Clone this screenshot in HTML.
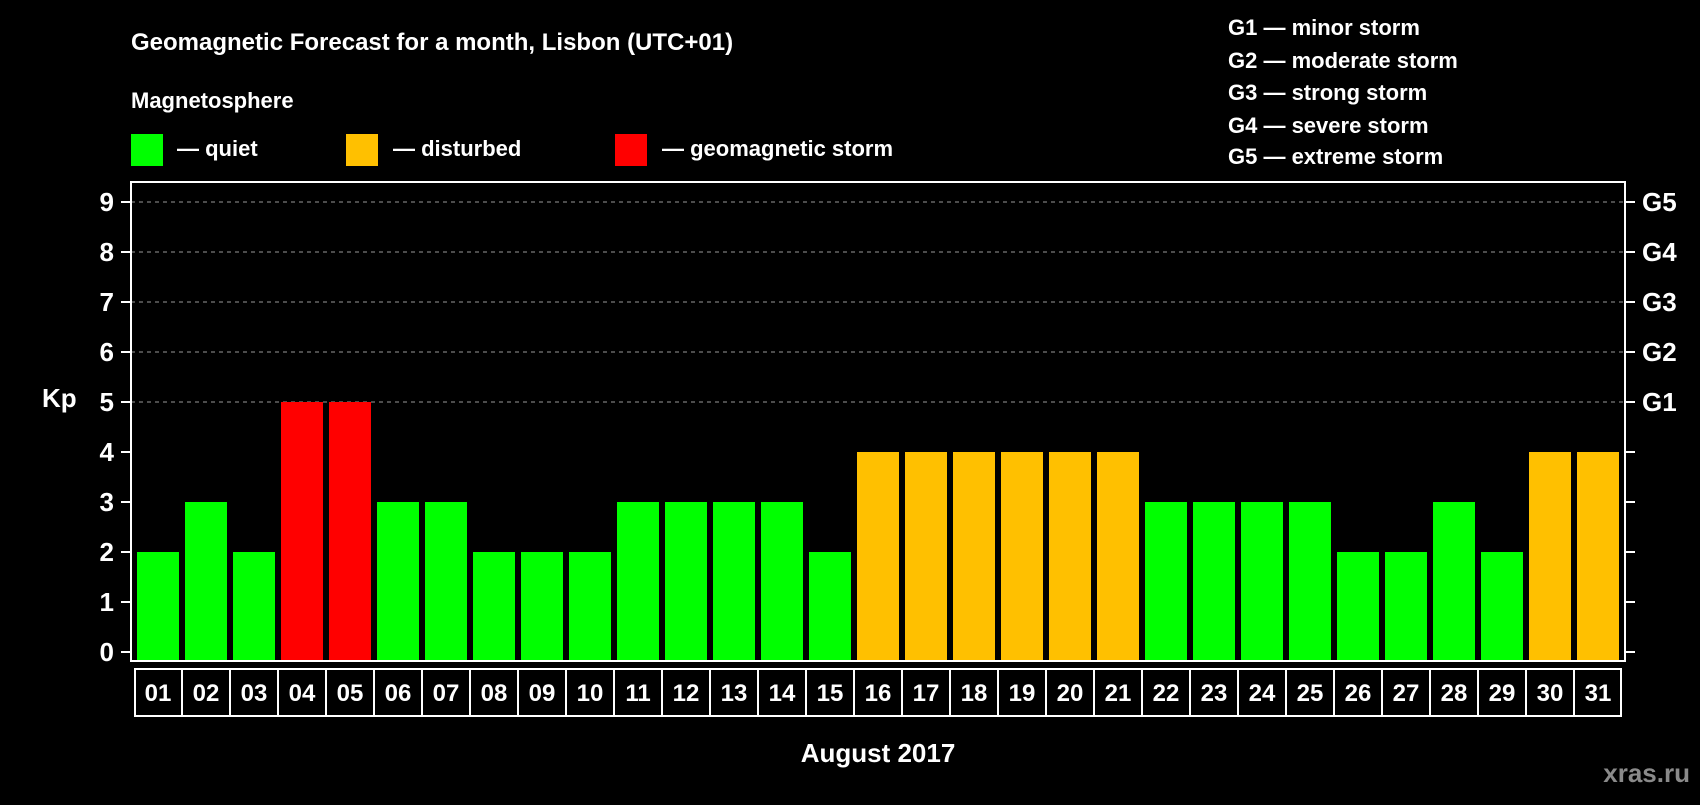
<!DOCTYPE html>
<html><head><meta charset="utf-8"><style>
body{margin:0;background:#000;width:1700px;height:800px;overflow:hidden}
svg text{font-family:"Liberation Sans",Arial,sans-serif;font-weight:bold;fill:#fff}
</style></head><body>
<svg id="chart" width="1700" height="800" xmlns="http://www.w3.org/2000/svg">
<rect width="1700" height="800" fill="#000"/>
<text x="131" y="50" font-size="24">Geomagnetic Forecast for a month, Lisbon (UTC+01)</text>
<text x="131" y="108" font-size="22">Magnetosphere</text>
<g><rect x="131" y="134" width="32" height="32" fill="#00ff00"/><text x="177" y="156" font-size="22">— quiet</text></g>
<g><rect x="346" y="134" width="32" height="32" fill="#ffc000"/><text x="393" y="156" font-size="22">— disturbed</text></g>
<g><rect x="615" y="134" width="32" height="32" fill="#ff0000"/><text x="662" y="156" font-size="22">— geomagnetic storm</text></g>
<g font-size="22">
<text x="1228" y="35">G1 — minor storm</text>
<text x="1228" y="68">G2 — moderate storm</text>
<text x="1228" y="100">G3 — strong storm</text>
<text x="1228" y="133">G4 — severe storm</text>
<text x="1228" y="164">G5 — extreme storm</text>
</g>
<text x="42" y="407" font-size="26">Kp</text>
<text x="878" y="762" font-size="26" text-anchor="middle">August 2017</text>
<text x="1690" y="782" font-size="26" text-anchor="end" style="fill:#8a8a8a">xras.ru</text>
<g id="grid"></g><g id="bars"></g><g id="axes"></g>
</svg>
<script>
const days=["01","02","03","04","05","06","07","08","09","10","11","12","13","14","15","16","17","18","19","20","21","22","23","24","25","26","27","28","29","30","31"];
const kp=[2,3,2,5,5,3,3,2,2,2,3,3,3,3,2,4,4,4,4,4,4,3,3,3,3,2,2,3,2,4,4];
const yTicks=[0,1,2,3,4,5,6,7,8,9];
const gLabels=["G1","G2","G3","G4","G5"];
const gLevels=[5,6,7,8,9];
const NS="http://www.w3.org/2000/svg";
const L=131,R=1625,T=182,B=661,bandStart=134,pitch=48,bw=42;
const y=v=>652-v*50;
const x=i=>bandStart+i*pitch;
function mk(t,a,p){const e=document.createElementNS(NS,t);for(const k in a)e.setAttribute(k,a[k]);p.appendChild(e);return e;}
const grid=document.getElementById('grid'),bars=document.getElementById('bars'),axes=document.getElementById('axes');
gLevels.forEach(v=>{const l=mk('line',{x1:L,x2:R,y1:y(v),y2:y(v),stroke:'#999','stroke-dasharray':'4,4','stroke-width':1},grid);

});
kp.forEach((v,i)=>{const c=v>=5?'#ff0000':v>=4?'#ffc000':'#00ff00';
const r=mk('rect',{x:x(i)+3,y:y(v),width:bw,height:y(0)+9-y(v),fill:c},bars);

});
const fr=mk('rect',{x:L,y:T,width:R-L,height:B-T,fill:'none',stroke:'#fff','stroke-width':2},axes);


yTicks.forEach(v=>{mk('line',{x1:L-10,x2:L,y1:y(v),y2:y(v),stroke:'#fff','stroke-width':2},axes);
mk('line',{x1:R,x2:R+10,y1:y(v),y2:y(v),stroke:'#fff','stroke-width':2},axes);
const t=mk('text',{x:114,y:y(v)+9,'font-size':26,'text-anchor':'end'},axes);t.textContent=v;

});
gLabels.forEach((g,i)=>{const t=mk('text',{x:1642,y:y(gLevels[i])+9,'font-size':26},axes);t.textContent=g;

});
const bx=mk('rect',{x:bandStart+1,y:669,width:days.length*pitch-2,height:47,fill:'none',stroke:'#fff','stroke-width':2},axes);


days.forEach((d,i)=>{if(i>0)mk('line',{x1:x(i),x2:x(i),y1:669,y2:716,stroke:'#fff','stroke-width':2},axes);
const t=mk('text',{x:x(i)+pitch/2,y:701,'font-size':24,'text-anchor':'middle'},axes);t.textContent=d;

});
</script>
</body></html>
